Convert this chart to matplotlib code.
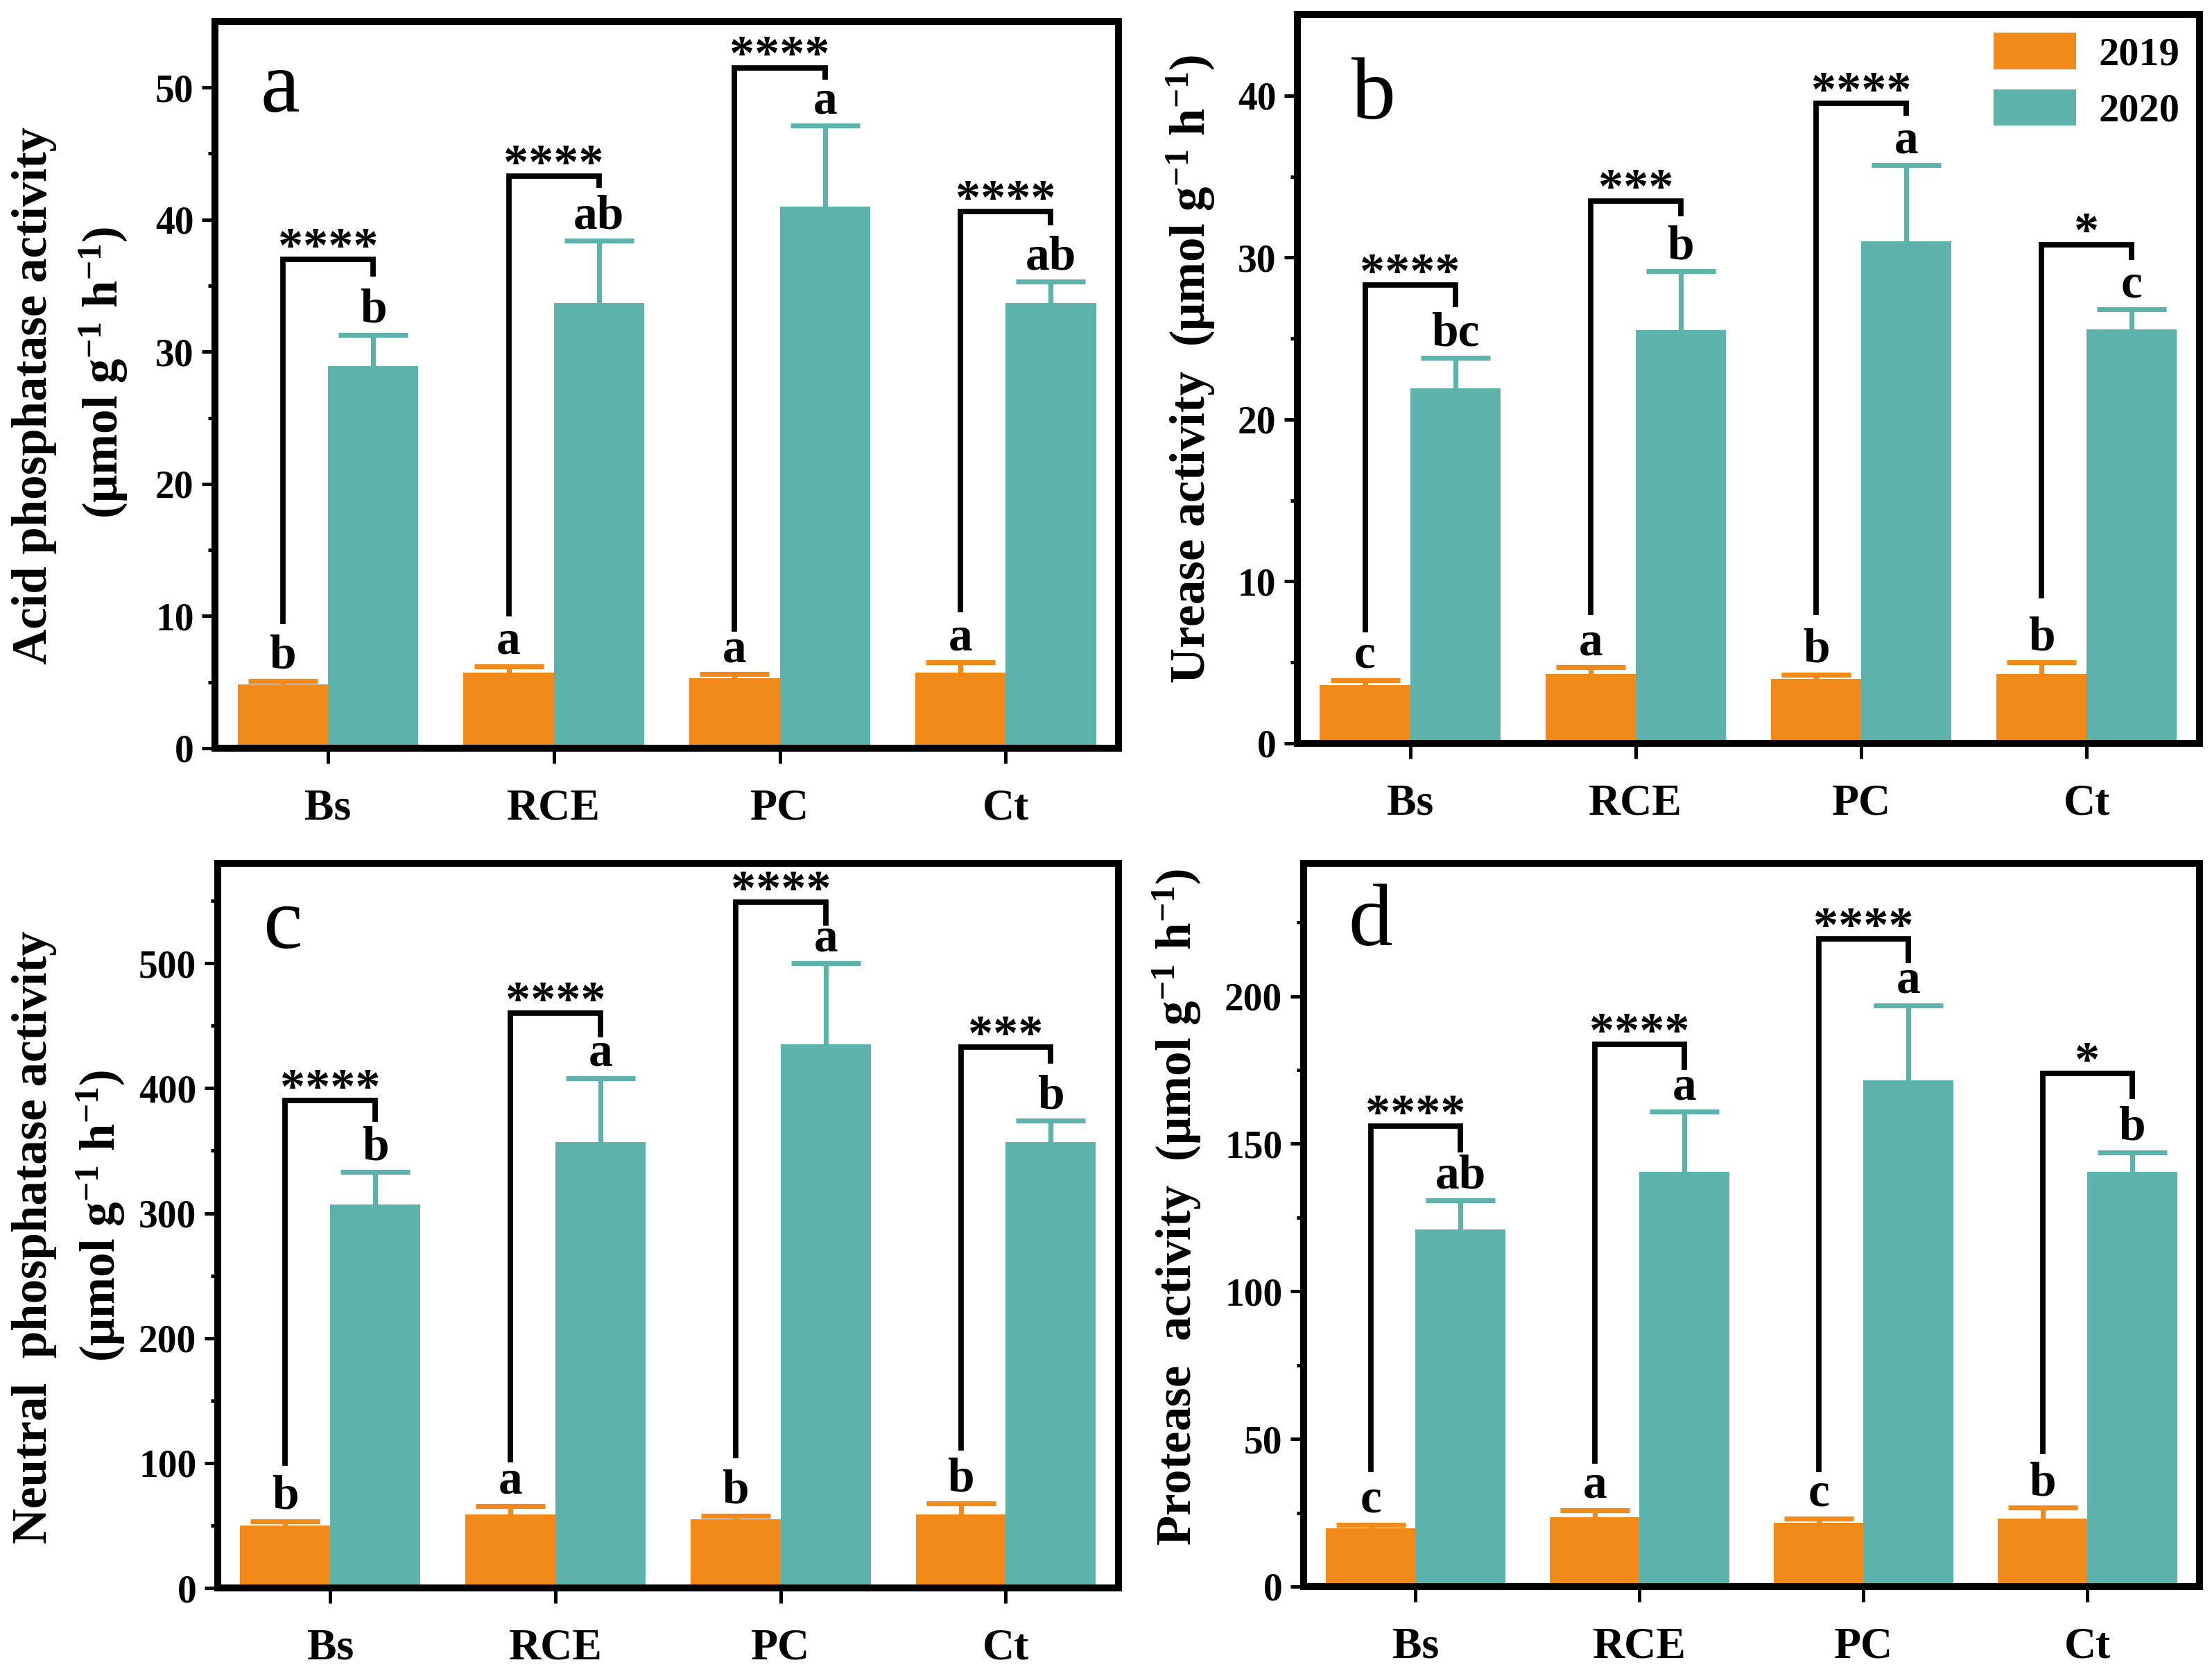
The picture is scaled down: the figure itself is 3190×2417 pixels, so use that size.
import numpy as np
import matplotlib
matplotlib.use("Agg")
import matplotlib.pyplot as plt
from matplotlib.patches import Patch

# fonts: Times-like bold everywhere, mathtext for the superscripts
plt.rcParams["font.family"] = "Liberation Serif"
plt.rcParams["font.weight"] = "bold"
plt.rcParams["mathtext.fontset"] = "custom"
plt.rcParams["mathtext.rm"] = "Liberation Serif:bold"
plt.rcParams["mathtext.bf"] = "Liberation Serif:bold"
plt.rcParams["mathtext.default"] = "bf"

categories = ["Bs", "RCE", "PC", "Ct"]
years = ["2019", "2020"]

# a: acid phosphatase
acid_2019 = [4.8, 5.7, 5.3, 5.7]
acid_2019_err = [0.3, 0.5, 0.3, 0.8]
acid_2020 = [28.9, 33.7, 41.0, 33.7]
acid_2020_err = [2.4, 4.7, 6.1, 1.6]
acid_let_2019 = ["b", "a", "a", "a"]
acid_let_2020 = ["b", "ab", "a", "ab"]
acid_sig = ["****", "****", "****", "****"]
acid_bracket = [37.0, 43.3, 51.5, 40.6]
acid_leg_left = [9.6, 10.2, 9.0, 10.5]
acid_leg_right = [35.9, 42.6, 50.8, 39.8]

# b: urease
urease_2019 = [3.6, 4.3, 4.0, 4.3]
urease_2019_err = [0.3, 0.4, 0.25, 0.7]
urease_2020 = [21.9, 25.5, 31.0, 25.55]
urease_2020_err = [1.9, 3.65, 4.7, 1.25]
urease_let_2019 = ["c", "a", "b", "b"]
urease_let_2020 = ["bc", "b", "a", "c"]
urease_sig = ["****", "***", "****", "*"]
urease_bracket = [28.3, 33.5, 39.5, 30.8]
urease_leg_left = [7.0, 8.1, 8.1, 9.1]
urease_leg_right = [27.1, 32.7, 38.9, 30.0]

# c: neutral phosphatase
neutral_2019 = [50, 59, 55, 59]
neutral_2019_err = [3.6, 6.7, 3.0, 8.5]
neutral_2020 = [307, 357, 435, 357]
neutral_2020_err = [26, 51, 65, 17]
neutral_let_2019 = ["b", "a", "b", "b"]
neutral_let_2020 = ["b", "a", "a", "b"]
neutral_sig = ["****", "****", "****", "***"]
neutral_bracket = [390, 460, 549, 433]
neutral_leg_left = [100, 103, 106, 112]
neutral_leg_right = [375, 443, 532, 422]

# d: protease
protease_2019 = [19.8, 23.5, 21.5, 23.0]
protease_2019_err = [1.2, 2.4, 1.5, 3.7]
protease_2020 = [120.9, 140.5, 171.4, 140.5]
protease_2020_err = [9.9, 20.3, 25.5, 6.6]
protease_let_2019 = ["c", "a", "c", "b"]
protease_let_2020 = ["ab", "a", "a", "b"]
protease_sig = ["****", "****", "****", "*"]
protease_bracket = [155.9, 183.7, 219.4, 173.8]
protease_leg_left = [39.6, 42.6, 39.6, 45.7]
protease_leg_right = [148, 176, 212, 166]

ORANGE = "#F28A1A"
TEAL = "#5DB2AB"
W = 0.4

unit = r"(μmol g$^{-1}$ h$^{-1}$)"


def upper_err(ax, xs, ys, err, color):
    eb = ax.errorbar(xs, ys, yerr=[np.zeros(len(ys)), err], fmt="none",
                     ecolor=color, elinewidth=2.6, capsize=18, capthick=2.6,
                     zorder=3)
    # only the top cap is wanted
    eb[1][0].set_visible(False)


def panel(ax, v19, e19, v20, e20, l19, l20, sig, br, legl, legr,
          ymax, major, minor, letter, letter_pos):
    x = np.arange(len(categories))
    ax.bar(x - W / 2, v19, W, color=ORANGE, zorder=2)
    ax.bar(x + W / 2, v20, W, color=TEAL, zorder=2)
    upper_err(ax, x - W / 2, v19, e19, ORANGE)
    upper_err(ax, x + W / 2, v20, e20, TEAL)

    for i in range(len(categories)):
        ax.annotate(l19[i], (x[i] - W / 2, v19[i] + e19[i]), xytext=(0, 6.5),
                    textcoords="offset points", ha="center", va="baseline",
                    fontsize=25)
        ax.annotate(l20[i], (x[i] + W / 2, v20[i] + e20[i]), xytext=(0, 6.5),
                    textcoords="offset points", ha="center", va="baseline",
                    fontsize=25)
        ax.plot([x[i] - W / 2, x[i] - W / 2, x[i] + W / 2, x[i] + W / 2],
                [legl[i], br[i], br[i], legr[i]], color="black", lw=2.8,
                solid_joinstyle="miter", zorder=4)
        ax.annotate(sig[i], (x[i], br[i]), xytext=(0, -1),
                    textcoords="offset points", ha="center", va="baseline",
                    fontsize=26)

    ax.set_xlim(-0.5, 3.5)
    ax.set_ylim(0, ymax)
    ax.set_xticks(x)
    ax.set_xticklabels(categories, fontsize=23)
    ax.set_yticks(np.arange(0, ymax, major))
    ax.set_yticks(np.arange(minor, ymax, major), minor=True)
    ax.tick_params(axis="y", which="major", direction="out", length=7, width=1.8,
                   labelsize=20, pad=4)
    ax.tick_params(axis="y", which="minor", direction="out", length=3.5, width=1.8)
    ax.tick_params(axis="x", direction="out", length=8, width=1.8, pad=13)
    for s in ax.spines.values():
        s.set_linewidth(3.6)
    ax.text(letter_pos[0], letter_pos[1], letter, transform=ax.transAxes,
            fontsize=46, fontweight="normal", ha="left", va="baseline")


fig = plt.figure(figsize=(15.95, 12.085), dpi=200)
ax_a = fig.add_axes([0.0972, 0.5536, 0.4085, 0.4336])
ax_b = fig.add_axes([0.5865, 0.5565, 0.4078, 0.4348])
ax_c = fig.add_axes([0.0984, 0.0525, 0.4072, 0.4324])
ax_d = fig.add_axes([0.5893, 0.0534, 0.4050, 0.4315])

panel(ax_a, acid_2019, acid_2019_err, acid_2020, acid_2020_err,
      acid_let_2019, acid_let_2020, acid_sig, acid_bracket,
      acid_leg_left, acid_leg_right, 55, 10, 5, "a", (0.05, 0.876))
panel(ax_b, urease_2019, urease_2019_err, urease_2020, urease_2020_err,
      urease_let_2019, urease_let_2020, urease_sig, urease_bracket,
      urease_leg_left, urease_leg_right, 45, 10, 5, "b", (0.06, 0.857))
panel(ax_c, neutral_2019, neutral_2019_err, neutral_2020, neutral_2020_err,
      neutral_let_2019, neutral_let_2020, neutral_sig, neutral_bracket,
      neutral_leg_left, neutral_leg_right, 580, 100, 50, "c", (0.05, 0.883))
panel(ax_d, protease_2019, protease_2019_err, protease_2020, protease_2020_err,
      protease_let_2019, protease_let_2020, protease_sig, protease_bracket,
      protease_leg_left, protease_leg_right, 245, 50, 25, "d", (0.05, 0.887))


def ylab(xpx, ypx, s):
    # position in reference pixels -> figure fraction
    fig.text(xpx / 3190, 1 - ypx / 2417, s, rotation=90, ha="center",
             va="center", fontsize=25.5)


ylab(50, 570, "Acid phosphatase activity")
ylab(149, 537, unit)
ylab(1717, 532, "Urease activity  " + unit)
ylab(50, 1784, "Neutral  phosphatase activity")
ylab(145, 1753, unit)
ylab(1697, 1741, "Protease  activity  " + unit)

handles = [Patch(facecolor=ORANGE), Patch(facecolor=TEAL)]
ax_b.legend(handles, years, loc="upper right", bbox_to_anchor=(0.978, 0.975),
            frameon=False, fontsize=21, handlelength=2.05, handleheight=1.0,
            labelspacing=0.4, handletextpad=0.55, borderpad=0, borderaxespad=0)

fig.savefig("out.png", dpi=200)
